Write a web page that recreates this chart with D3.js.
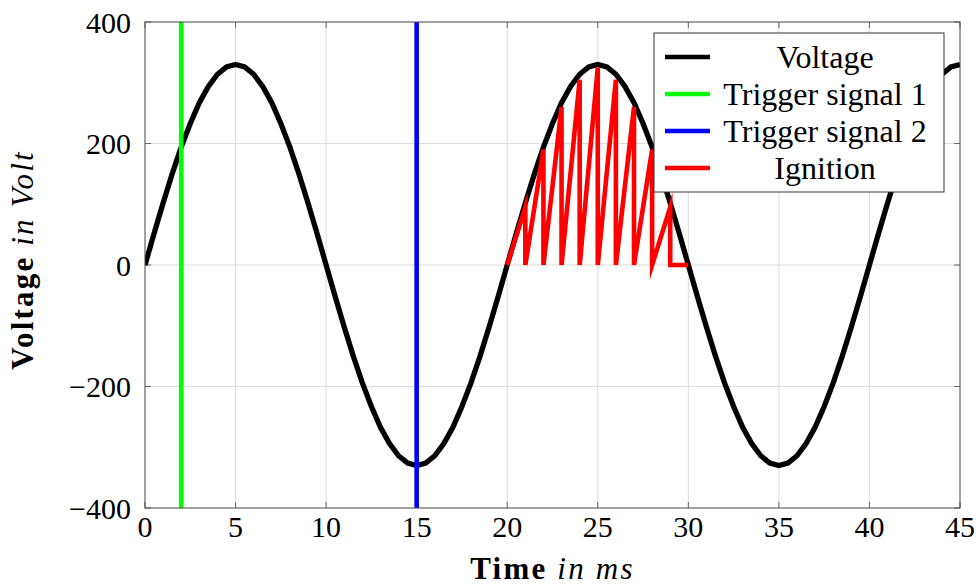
<!DOCTYPE html>
<html>
<head>
<meta charset="utf-8">
<script src="https://cdn.jsdelivr.net/npm/d3@7"></script>
<style>
  body { margin: 0; background: #fff; }
  svg { display: block; font-family: "Liberation Serif", "Times New Roman", serif; }
</style>
</head>
<body>
<div id="chart"></div>
<script>
// Sampled supply voltage (ms, V)
const timeMs = [
  0, 0.5, 1, 1.5, 2, 2.5, 3, 3.5, 4, 4.5,
  5, 5.5, 6, 6.5, 7, 7.5, 8, 8.5, 9, 9.5,
  10, 10.5, 11, 11.5, 12, 12.5, 13, 13.5, 14, 14.5,
  15, 15.5, 16, 16.5, 17, 17.5, 18, 18.5, 19, 19.5,
  20, 20.5, 21, 21.5, 22, 22.5, 23, 23.5, 24, 24.5,
  25, 25.5, 26, 26.5, 27, 27.5, 28, 28.5, 29, 29.5,
  30, 30.5, 31, 31.5, 32, 32.5, 33, 33.5, 34, 34.5,
  35, 35.5, 36, 36.5, 37, 37.5, 38, 38.5, 39, 39.5,
  40, 40.5, 41, 41.5, 42, 42.5, 43, 43.5, 44, 44.5,
  45
];
const voltage = [
  0, 52, 102, 150, 194, 233, 267, 294, 314, 326,
  330, 326, 314, 294, 267, 233, 194, 150, 102, 52,
  0, -52, -102, -150, -194, -233, -267, -294, -314, -326,
  -330, -326, -314, -294, -267, -233, -194, -150, -102, -52,
  0, 52, 102, 150, 194, 233, 267, 294, 314, 326,
  330, 326, 314, 294, 267, 233, 194, 150, 102, 52,
  0, -52, -102, -150, -194, -233, -267, -294, -314, -326,
  -330, -326, -314, -294, -267, -233, -194, -150, -102, -52,
  0, 52, 102, 150, 194, 233, 267, 294, 314, 326,
  330
];

// Trigger instants (ms)
const trigger1 = [2];
const trigger2 = [15];

// Ignition sawtooth
const ignitionTime = [20, 21, 21, 22, 22, 23, 23, 24, 24, 25, 25, 26, 26, 27, 27, 28, 28, 29, 29, 30];
const ignitionVolt = [0, 95, 0, 190, 0, 260, 0, 305, 0, 325, 0, 305, 0, 260, 0, 190, 0, 95, 0, 0];

// Axis ticks
const xTicks = [0, 5, 10, 15, 20, 25, 30, 35, 40, 45];
const yTicks = [-400, -200, 0, 200, 400];

const legendLabels = ["Voltage", "Trigger signal 1", "Trigger signal 2", "Ignition"];
const colors = ["#000000", "#00ff00", "#0000ff", "#ff0000"];

const width = 978, height = 585;
const margin = { left: 145, right: 18, top: 22, bottom: 77 };
const innerW = width - margin.left - margin.right;
const innerH = height - margin.top - margin.bottom;

const svg = d3.select("#chart").append("svg")
  .attr("width", width)
  .attr("height", height);

const g = svg.append("g").attr("transform", `translate(${margin.left},${margin.top})`);

const x = d3.scaleLinear().domain([0, 45]).range([0, innerW]);
const y = d3.scaleLinear().domain([-400, 400]).range([innerH, 0]);

// Grid
g.append("g").selectAll("line").data(xTicks.slice(1, -1)).enter().append("line")
  .attr("x1", d => x(d)).attr("x2", d => x(d))
  .attr("y1", 0).attr("y2", innerH)
  .attr("stroke", "#dcdcdc").attr("stroke-width", 1);
g.append("g").selectAll("line").data(yTicks.slice(1, -1)).enter().append("line")
  .attr("y1", d => y(d)).attr("y2", d => y(d))
  .attr("x1", 0).attr("x2", innerW)
  .attr("stroke", "#dcdcdc").attr("stroke-width", 1);

// Inward tick marks on all sides
const tickLen = 6;
const ticks = g.append("g").attr("stroke", "#666").attr("stroke-width", 1);
xTicks.forEach(t => {
  ticks.append("line").attr("x1", x(t)).attr("x2", x(t)).attr("y1", innerH).attr("y2", innerH - tickLen);
  ticks.append("line").attr("x1", x(t)).attr("x2", x(t)).attr("y1", 0).attr("y2", tickLen);
});
yTicks.forEach(t => {
  ticks.append("line").attr("y1", y(t)).attr("y2", y(t)).attr("x1", 0).attr("x2", tickLen);
  ticks.append("line").attr("y1", y(t)).attr("y2", y(t)).attr("x1", innerW).attr("x2", innerW - tickLen);
});

// Clip
svg.append("defs").append("clipPath").attr("id", "plot-clip")
  .append("rect").attr("x", 0).attr("y", 0).attr("width", innerW).attr("height", innerH);

const plot = g.append("g").attr("clip-path", "url(#plot-clip)");

const line = d3.line().x(d => x(d[0])).y(d => y(d[1]));
const lw = 4.6;

// Voltage
plot.append("path")
  .datum(timeMs.map((t, i) => [t, voltage[i]]))
  .attr("d", line)
  .attr("fill", "none").attr("stroke", colors[0]).attr("stroke-width", 5.3)
  .attr("stroke-linejoin", "miter").attr("stroke-miterlimit", 10);

// Triggers
[trigger1, trigger2].forEach((tr, k) => {
  plot.append("g").selectAll("line").data(tr).enter().append("line")
    .attr("x1", d => x(d)).attr("x2", d => x(d))
    .attr("y1", y(-400)).attr("y2", y(400))
    .attr("stroke", colors[k + 1]).attr("stroke-width", lw);
});

// Ignition
plot.append("path")
  .datum(ignitionTime.map((t, i) => [t, ignitionVolt[i]]))
  .attr("d", line)
  .attr("fill", "none").attr("stroke", colors[3]).attr("stroke-width", lw)
  .attr("stroke-linejoin", "miter").attr("stroke-miterlimit", 10);

// Frame
g.append("rect").attr("x", 0).attr("y", 0).attr("width", innerW).attr("height", innerH)
  .attr("fill", "none").attr("stroke", "#444").attr("stroke-width", 1);

// Tick labels
g.append("g").selectAll("text").data(xTicks).enter().append("text")
  .attr("x", d => x(d)).attr("y", innerH + 29)
  .attr("text-anchor", "middle").attr("font-size", 30)
  .text(d => d);
g.append("g").selectAll("text").data(yTicks).enter().append("text")
  .attr("x", -14).attr("y", d => y(d)).attr("dy", "0.35em")
  .attr("text-anchor", "end").attr("font-size", 30)
  .text(d => d < 0 ? "\u2212" + Math.abs(d) : d);

// Axis labels
const xl = svg.append("text")
  .attr("x", margin.left + innerW / 2).attr("y", 579)
  .attr("text-anchor", "middle").attr("font-size", 31).attr("letter-spacing", 2.2);
xl.append("tspan").attr("font-weight", "bold").text("Time");
xl.append("tspan").attr("font-style", "italic").text(" in ms");

const yl = svg.append("text")
  .attr("transform", "translate(33,260) rotate(-90)")
  .attr("text-anchor", "middle").attr("font-size", 31).attr("letter-spacing", 2.2);
yl.append("tspan").attr("font-weight", "bold").text("Voltage");
yl.append("tspan").attr("font-style", "italic").text(" in Volt");

// Legend
const lg = svg.append("g").attr("transform", "translate(654,33)");
lg.append("rect").attr("width", 290).attr("height", 159)
  .attr("fill", "#fff").attr("stroke", "#333").attr("stroke-width", 1);
legendLabels.forEach((lab, i) => {
  const cy = 24 + i * 37;
  lg.append("line").attr("x1", 11).attr("x2", 56).attr("y1", cy).attr("y2", cy)
    .attr("stroke", colors[i]).attr("stroke-width", lw);
  lg.append("text").attr("x", 171).attr("y", cy).attr("dy", "0.33em")
    .attr("text-anchor", "middle").attr("font-size", 32)
    .text(lab);
});
</script>
</body>
</html>
